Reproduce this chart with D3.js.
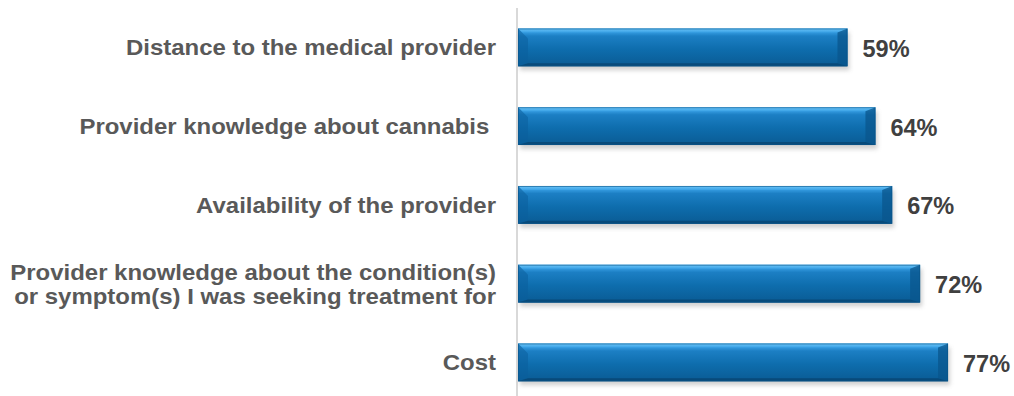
<!DOCTYPE html>
<html>
<head>
<meta charset="utf-8">
<script src="https://cdn.jsdelivr.net/npm/d3@7"></script>
<style>
  html, body { margin: 0; padding: 0; background: #ffffff; }
  svg { display: block; }
</style>
</head>
<body>
<svg id="chart" width="1014" height="396"></svg>
<script>
// Barriers to seeing a medical provider (share of respondents)
const categories = [
  ["Distance to the medical provider"],
  ["Provider knowledge about cannabis\u00a0"],
  ["Availability of the provider"],
  ["Provider knowledge about the condition(s)", "or symptom(s) I was seeking treatment for"],
  ["Cost"]
];
const values = [59, 64, 67, 72, 77];
const valueLabels = ["59%", "64%", "67%", "72%", "77%"];

const W = 1014, H = 396;
const svg = d3.select("#chart");
const defs = svg.append("defs");

const x0 = 518;
const x = d3.scaleLinear().domain([0, 100]).range([x0, x0 + 558.5]);
const y = d3.scaleBand()
  .domain(d3.range(values.length))
  .range([8, 401.75])
  .paddingInner(0.52)
  .paddingOuter(0.26);

// bar body gradient
const g1 = defs.append("linearGradient").attr("id", "body").attr("x1", 0).attr("y1", 0).attr("x2", 0).attr("y2", 1);
[[0, "#3aa2e6"], [0.12, "#2f95da"], [0.2, "#1c7fc4"], [0.55, "#0e6dad"], [1, "#0a5b94"]]
  .forEach(([o, c]) => g1.append("stop").attr("offset", o).attr("stop-color", c));

const g2 = defs.append("linearGradient").attr("id", "topfacet").attr("x1", 0).attr("y1", 0).attr("x2", 0).attr("y2", 1);
[[0, "#6cc4f7"], [1, "#3aa2e6"]].forEach(([o, c]) => g2.append("stop").attr("offset", o).attr("stop-color", c));

const shadow = defs.append("filter").attr("id", "shadow").attr("x", "-5%").attr("y", "-30%").attr("width", "110%").attr("height", "160%");
shadow.append("feGaussianBlur").attr("stdDeviation", 2);

// vertical axis line
svg.append("line")
  .attr("x1", 517).attr("x2", 517)
  .attr("y1", 8).attr("y2", H)
  .attr("stroke", "#d9d9d9").attr("stroke-width", 2);

const bars = svg.append("g").selectAll("g").data(values).join("g");

bars.each(function (v, i) {
  const g = d3.select(this);
  const bx = x(0), by = y(i), bw = x(v) - x(0), bh = y.bandwidth();
  const b = 10, t = 4, bb = 3;
  // soft shadow under the bar
  g.append("rect")
    .attr("x", bx + 2).attr("y", by + 4).attr("width", bw).attr("height", bh)
    .attr("fill", "#9a9a9a").attr("opacity", 0.45).attr("filter", "url(#shadow)");
  // body
  g.append("rect")
    .attr("x", bx).attr("y", by).attr("width", bw).attr("height", bh)
    .attr("fill", "url(#body)");
  // top facet
  g.append("polygon")
    .attr("points", [[bx, by], [bx + bw, by], [bx + bw - t, by + t], [bx + t, by + t]].join(" "))
    .attr("fill", "url(#topfacet)");
  // left facet
  g.append("polygon")
    .attr("points", [[bx, by], [bx + b, by + b], [bx + b, by + bh - bb], [bx, by + bh]].join(" "))
    .attr("fill", "#0b5f9c").attr("opacity", 0.55);
  // right facet
  g.append("polygon")
    .attr("points", [[bx + bw - b, by + t], [bx + bw, by], [bx + bw, by + bh], [bx + bw - b, by + bh - bb]].join(" "))
    .attr("fill", "#0a568c").attr("opacity", 0.75);
  // bottom facet
  g.append("polygon")
    .attr("points", [[bx, by + bh], [bx + bw, by + bh], [bx + bw - b, by + bh - bb], [bx + b, by + bh - bb]].join(" "))
    .attr("fill", "#084a7a");
  // outline
  g.append("rect")
    .attr("x", bx + 0.5).attr("y", by + 0.5).attr("width", bw - 1).attr("height", bh - 1)
    .attr("fill", "none").attr("stroke", "#0a5589").attr("stroke-width", 1).attr("opacity", 0.6);
});

// value labels
svg.append("g").selectAll("text").data(values).join("text")
  .attr("x", d => x(d) + 15)
  .attr("y", (d, i) => y(i) + y.bandwidth() / 2 + 9.5)
  .attr("font-family", "Liberation Sans, Arial, sans-serif")
  .attr("font-weight", "bold")
  .attr("font-size", "23.5px")
  .attr("fill", "#404040")
  .text((d, i) => valueLabels[i]);

// category labels (slightly widened type, right-aligned against the axis)
const lab = svg.append("g")
  .attr("transform", "translate(496,0) scale(1.115,1)")
  .selectAll("text").data(categories).join("text")
  .attr("text-anchor", "end")
  .attr("font-family", "Liberation Sans, Arial, sans-serif")
  .attr("font-weight", "bold")
  .attr("font-size", "21.5px")
  .attr("fill", "#595959")
  .attr("xml:space", "preserve")
  .style("white-space", "pre");

lab.each(function (lines, i) {
  const cy = y(i) + y.bandwidth() / 2;
  const lh = 24;
  const start = cy - (lines.length - 1) * lh / 2 + 8;
  d3.select(this).selectAll("tspan").data(lines).join("tspan")
    .attr("x", 0)
    .attr("y", (d, j) => start + j * lh)
    .text(d => d);
});
</script>
</body>
</html>
